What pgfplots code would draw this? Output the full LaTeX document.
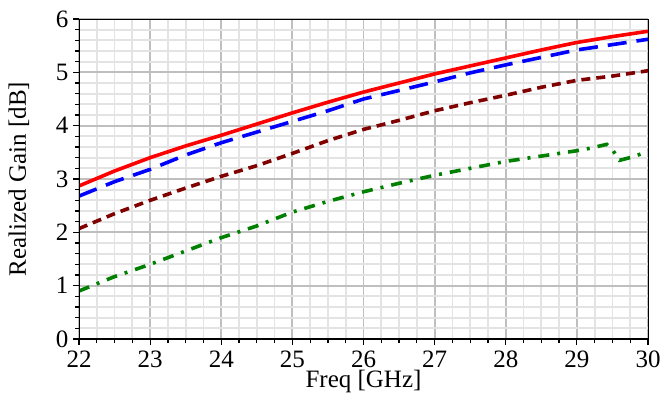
\documentclass[border=0pt]{standalone}
\usepackage{fontspec}
\setmainfont{Liberation Serif}
\usepackage{pgfplots}
\pgfplotsset{compat=1.18}
\definecolor{cred}{RGB}{255,0,0}
\definecolor{cblue}{RGB}{0,0,255}
\definecolor{cdred}{RGB}{128,0,0}
\definecolor{cgreen}{RGB}{0,128,0}
\begin{document}
\begin{tikzpicture}[x=1pt,y=1pt]
\useasboundingbox (0,0) rectangle (660,394);
\begin{axis}[
  at={(79pt,55pt)}, anchor=south west,
  width=569pt, height=320pt, scale only axis,
  xmin=22, xmax=30, ymin=0, ymax=6,
  xtick={22,...,30}, ytick={0,...,6},
  minor x tick num=3, minor y tick num=4,
  grid=both,
  major grid style={draw=black!25, line width=1.8pt},
  minor grid style={draw=black!11, line width=1.8pt},
  tick align=outside, xtick pos=bottom, ytick pos=left,
  major tick length=6pt, minor tick length=4pt,
  every tick/.style={black, line width=1.2pt},
  axis line style={black, line width=1pt},
  tick label style={font=\fontsize{25}{25}\selectfont},
  /pgf/number format/assume math mode=true,
  xticklabel style={yshift=-2pt},
  yticklabel style={xshift=-1pt},
  xlabel={Freq [GHz]}, ylabel={Realized Gain [dB]},
  label style={font=\fontsize{25}{25}\selectfont},
  xlabel style={yshift=4pt},
  ylabel style={yshift=20pt},
  every axis plot/.append style={line width=3.6pt},
]
\addplot[cred, solid] coordinates {
(22,2.87)(22.5,3.15)(23,3.40)(23.5,3.62)(24,3.82)(24.5,4.03)(25,4.24)(25.5,4.44)(26,4.63)(26.5,4.80)(27,4.97)(27.5,5.12)(28,5.27)(28.5,5.42)(29,5.56)(29.5,5.67)(30,5.77)};
\addplot[cblue, dash pattern=on 19pt off 10pt] coordinates {
(22,2.68)(22.5,2.95)(23,3.18)(23.5,3.45)(24,3.68)(24.5,3.88)(25,4.08)(25.5,4.28)(26,4.50)(26.5,4.66)(27,4.82)(27.5,4.99)(28,5.14)(28.5,5.28)(29,5.42)(29.5,5.52)(30,5.62)};
\addplot[cdred, dash pattern=on 9pt off 6pt] coordinates {
(22,2.07)(22.5,2.35)(23,2.60)(23.5,2.83)(24,3.05)(24.5,3.25)(25,3.48)(25.5,3.72)(26,3.93)(26.5,4.10)(27,4.28)(27.5,4.43)(28,4.57)(28.5,4.72)(29,4.85)(29.5,4.93)(30,5.03)};
\addplot[cgreen, dash pattern=on 11pt off 8pt on 3pt off 8pt] coordinates {
(22,0.90)(22.5,1.17)(23,1.40)(23.5,1.65)(24,1.90)(24.5,2.12)(25,2.38)(25.5,2.58)(26,2.76)(26.5,2.92)(27,3.07)(27.5,3.20)(28,3.33)(28.5,3.43)(29,3.53)(29.2,3.58)(29.42,3.65)(29.5,3.55)(29.6,3.35)(29.8,3.42)(30,3.52)};
\draw[black, line width=1.8pt] (rel axis cs:0,1) -- (rel axis cs:0,0) -- (rel axis cs:1,0);
\end{axis}
\end{tikzpicture}
\end{document}
